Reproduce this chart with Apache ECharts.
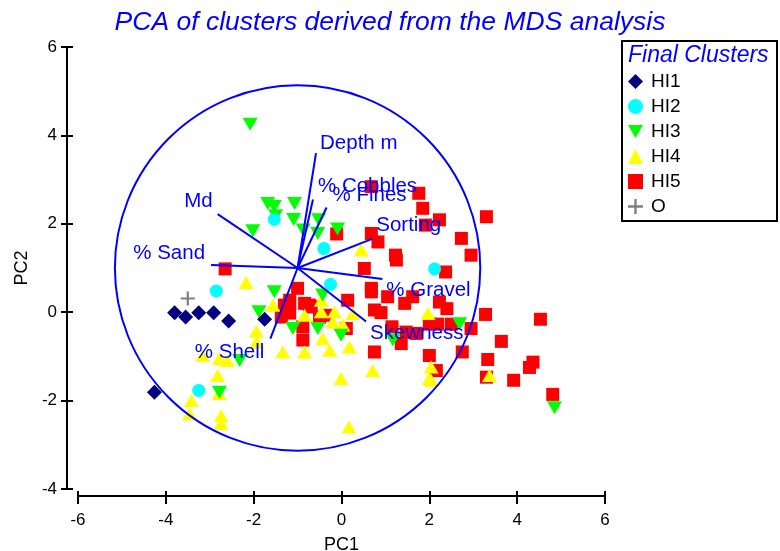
<!DOCTYPE html>
<html><head><meta charset="utf-8">
<script src="https://cdn.jsdelivr.net/npm/echarts@6/dist/echarts.min.js"></script>
<style>html,body{margin:0;padding:0;background:#fff}#c{width:780px;height:551px}</style>
</head><body><div id="c"></div>
<script>
// ---------- DATA ----------
const chartTitle = 'PCA of clusters derived from the MDS analysis';
const legendTitle = 'Final Clusters';
const clusterNames = ['HI1', 'HI2', 'HI3', 'HI4', 'HI5', 'O'];

const hi1 = [[-3.80,-0.01],[-3.55,-0.11],[-3.25,-0.01],[-2.91,-0.01],[-2.57,-0.20],[-1.75,-0.16],[-4.26,-1.81]];
const hi2 = [[-1.53,2.10],[-0.40,1.44],[-0.25,0.63],[-2.85,0.48],[-3.25,-1.77],[2.12,0.98]];
const hi3 = [[-2.08,4.25],[-1.68,2.46],[-1.53,2.39],[-1.07,2.46],[-1.50,2.18],[-1.09,2.10],[-2.02,1.84],
  [-0.87,1.86],[-0.52,2.09],[-0.54,1.78],[-0.09,1.88],[-1.53,0.46],[-1.88,0.01],[-1.11,-0.37],[-0.54,-0.37],
  [-0.43,0.39],[-0.01,-0.52],[-2.32,-1.09],[-2.78,-1.81],[2.69,-0.26],[1.17,-0.63],[4.85,-2.16]];
const hi4 = [[-2.17,0.67],[-1.94,-0.43],[-1.94,-0.68],[-1.34,-0.90],[-0.84,-0.90],[-0.27,-0.86],[0.18,-0.79],
  [-3.16,-0.98],[-2.78,-1.05],[-2.60,-1.09],[-2.82,-1.43],[-3.42,-2.00],[-3.46,-2.30],[-2.74,-2.34],[-2.74,-2.52],
  [-2.79,-1.84],[-0.01,-1.50],[0.71,-1.32],[0.17,-2.60],[-0.43,-0.60],[-1.56,0.16],[-0.84,-0.07],[-0.46,0.27],
  [-0.16,0.01],[-0.20,-0.22],[0.03,-0.29],[0.26,-0.03],[-0.46,0.01],[1.97,-0.03],[2.04,-1.24],[2.00,-1.50],
  [0.45,1.41],[2.04,-1.54],[3.37,-1.43]];
const hi5 = [[-2.65,0.98],[-0.11,1.77],[-1.00,0.54],[-1.18,0.27],[-1.30,0.16],[-1.37,-0.11],[-0.84,0.20],
  [-0.73,0.16],[-0.88,-0.33],[-0.88,-0.63],[-0.50,-0.11],[0.14,0.27],[0.11,-0.37],[-0.69,0.12],[-0.35,-0.07],
  [-1.18,0.20],[-1.18,-0.02],[0.68,0.46],[0.75,0.05],[0.75,-0.90],[0.68,2.84],[1.76,2.69],[1.85,2.35],
  [1.91,1.97],[2.23,2.09],[2.73,1.67],[2.95,1.29],[0.68,1.78],[0.83,1.59],[1.23,1.29],[1.25,1.18],[0.52,0.99],
  [2.37,0.91],[3.30,2.16],[0.68,0.54],[1.05,0.35],[1.44,0.20],[1.62,0.35],[2.23,0.23],[2.40,0.08],[0.90,-0.01],
  [3.28,-0.05],[4.53,-0.16],[1.15,-0.33],[1.47,-0.45],[1.70,-0.48],[2.00,-0.27],[2.19,-0.27],[2.50,-0.27],
  [2.95,-0.37],[3.64,-0.66],[1.36,-0.71],[2.00,-0.98],[2.75,-0.90],[3.33,-1.07],[2.16,-1.32],[4.36,-1.13],
  [4.28,-1.25],[3.92,-1.54],[4.81,-1.86],[3.30,-1.47]];
const others = [[-3.50,0.31]];

const vectorNames = ['Depth m', '% Cobbles', '% Fines', 'Md', '% Sand', '% Shell', 'Sorting', '% Gravel', 'Skewness'];
const vectorEnds = [[-0.58,3.60],[-0.65,2.55],[-0.34,2.37],[-2.82,2.22],[-2.97,1.07],[-1.62,-0.60],[0.70,1.66],[0.93,0.75],[0.56,-0.21]];
const vectorOrigin = [-1.0, 1.0];
const circleCenter = [-1.0, 1.0];
const circleRadius = 4.16;

const xMin = -6, xMax = 6, xStep = 2;
const yMin = -4, yMax = 6, yStep = 2;

// ---------- STYLE ----------
const BLUE = '#0000ff';
const FONT = 'Arial, "Liberation Sans", sans-serif';
// label placement relative to vector tip: [dx px, dy px, align]
const vectorLabelPlacement = [[4,-10,'left'],[5,-13,'left'],[6,-12,'left'],[-5,-13,'right'],[-6,-12,'right'],
  [-6,14,'right'],[4,-13,'left'],[4,11,'left'],[4,12,'left']];

const downTri = 'path://M0,0L10,0L5,8.7Z';
const plusPath = 'path://M4.2,0H5.8V4.2H10V5.8H5.8V10H4.2V5.8H0V4.2H4.2Z';

const chart = echarts.init(document.getElementById('c'), null, {renderer: 'canvas'});

function axisCommon(min, max, step) {
  return {type: 'value', min: min, max: max, interval: step, splitLine: {show: false}};
}
const axisLineStyle = {color: '#000', width: 2};

const option = {
  animation: false,
  backgroundColor: '#fff',
  title: {
    text: chartTitle, left: 'center', top: 4,
    textStyle: {fontFamily: FONT, fontStyle: 'italic', fontWeight: 'normal', fontSize: 26.5, color: BLUE}
  },
  grid: {left: 78, right: 175, top: 47, bottom: 62, containLabel: false, outerBoundsMode: 'none'},
  xAxis: [
    Object.assign(axisCommon(xMin, xMax, xStep), {
      position: 'bottom', offset: 7,
      axisLine: {show: true, onZero: false, lineStyle: axisLineStyle},
      axisTick: {show: true, length: 8, lineStyle: axisLineStyle},
      axisLabel: {color: '#000', fontSize: 17, fontFamily: FONT, margin: 16},
      name: 'PC1', nameLocation: 'middle', nameGap: 40,
      nameTextStyle: {color: '#000', fontSize: 18, fontFamily: FONT}
    }),
    Object.assign(axisCommon(xMin, xMax, xStep), {
      position: 'bottom', offset: 7,
      axisLine: {show: false, onZero: false}, axisLabel: {show: false},
      axisTick: {show: true, inside: true, length: 5, lineStyle: axisLineStyle}
    })
  ],
  yAxis: [
    Object.assign(axisCommon(yMin, yMax, yStep), {
      position: 'left', offset: 11,
      axisLine: {show: true, onZero: false, lineStyle: axisLineStyle},
      axisTick: {show: true, length: 6, lineStyle: axisLineStyle},
      axisLabel: {color: '#000', fontSize: 17, fontFamily: FONT, margin: 10},
      name: 'PC2', nameLocation: 'middle', nameGap: 34,
      nameTextStyle: {color: '#000', fontSize: 18, fontFamily: FONT}
    }),
    Object.assign(axisCommon(yMin, yMax, yStep), {
      position: 'left', offset: 11,
      axisLine: {show: false, onZero: false}, axisLabel: {show: false},
      axisTick: {show: true, inside: true, length: 6, lineStyle: axisLineStyle}
    })
  ],
  legend: {
    data: clusterNames, orient: 'vertical', left: 628, top: 72,
    itemWidth: 15, itemHeight: 15, itemGap: 6, padding: 0,
    textStyle: {color: '#000', fontSize: 19, fontFamily: FONT, padding: [0, 0, 0, 3]}
  },
  graphic: [
    {type: 'rect', left: 621, top: 40, z: 0, shape: {width: 155, height: 180},
      style: {fill: '#fff', stroke: '#000', lineWidth: 2}},
    {type: 'text', left: 628, top: 44, z: 1,
      style: {text: legendTitle, fill: BLUE, font: 'italic 23px ' + FONT}}
  ],
  series: [
    {name: 'HI5', type: 'scatter', data: hi5, symbol: 'rect', symbolSize: 13, itemStyle: {color: '#ff0000', opacity: 1}},
    {name: 'HI4', type: 'scatter', data: hi4, symbol: 'triangle', symbolSize: [15, 13], itemStyle: {color: '#ffff00', opacity: 1}},
    {name: 'HI3', type: 'scatter', data: hi3, symbol: downTri, symbolSize: [15, 13], itemStyle: {color: '#00ff00', opacity: 1}},
    {name: 'HI2', type: 'scatter', data: hi2, symbol: 'circle', symbolSize: 13, itemStyle: {color: '#00ffff', opacity: 1}},
    {name: 'HI1', type: 'scatter', data: hi1, symbol: 'diamond', symbolSize: 15, itemStyle: {color: '#000080', opacity: 1}},
    {name: 'O', type: 'scatter', data: others, symbol: plusPath, symbolSize: 14, itemStyle: {color: '#808080', opacity: 1}},
    {
      name: 'circle', type: 'custom', z: 5, data: [circleCenter], silent: true,
      renderItem: function (params, api) {
        const c = api.coord([api.value(0), api.value(1)]);
        const r = api.size([circleRadius, 0])[0];
        return {type: 'circle', shape: {cx: c[0], cy: c[1], r: r},
          style: {fill: 'none', stroke: BLUE, lineWidth: 2}};
      }
    },
    {
      name: 'vectors', type: 'custom', z: 6, data: vectorEnds, silent: true,
      renderItem: function (params, api) {
        const o = api.coord(vectorOrigin);
        const e = api.coord([api.value(0), api.value(1)]);
        const p = vectorLabelPlacement[params.dataIndex];
        return {type: 'group', children: [
          {type: 'line', shape: {x1: o[0], y1: o[1], x2: e[0], y2: e[1]}, style: {stroke: BLUE, lineWidth: 2}},
          {type: 'text', x: e[0] + p[0], y: e[1] + p[1],
            style: {text: vectorNames[params.dataIndex], fill: BLUE, font: '20.5px ' + FONT, align: p[2], verticalAlign: 'middle'}}
        ]};
      }
    }
  ]
};
chart.setOption(option);
</script>
</body></html>
